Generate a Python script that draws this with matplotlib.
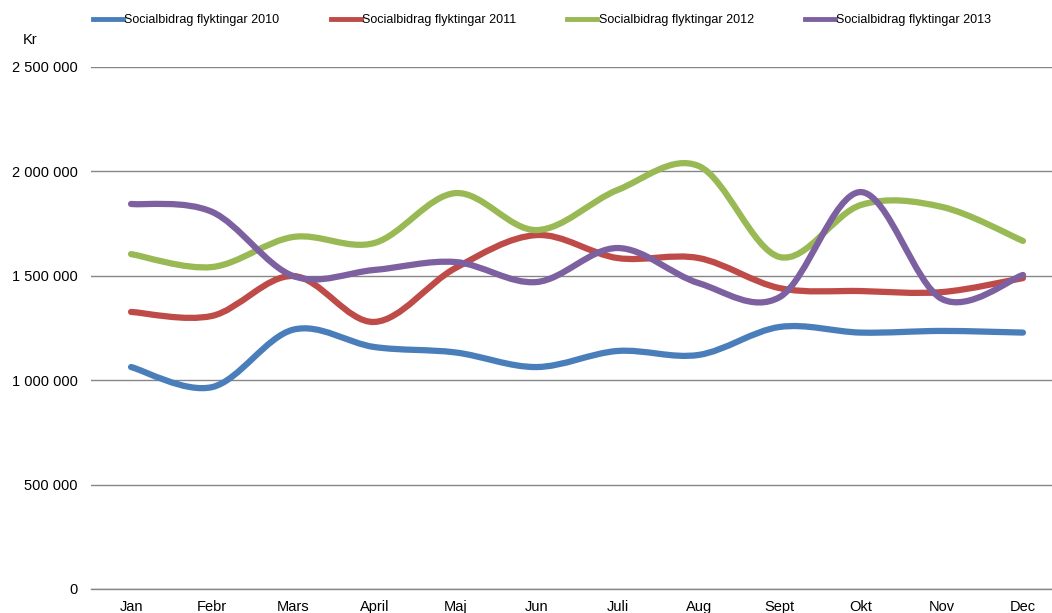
"""
plot.py

Socialbidrag flyktingar per month 2010-2013, drawn as smoothed lines
(Excel style Bezier smoothing through the monthly values).
"""

import matplotlib
matplotlib.use("Agg")
import matplotlib.pyplot as plt
from matplotlib.path import Path
from matplotlib.patches import PathPatch
from matplotlib.lines import Line2D
from matplotlib.ticker import FuncFormatter

# Data
months = ["Jan", "Febr", "Mars", "April", "Maj", "Jun",
          "Juli", "Aug", "Sept", "Okt", "Nov", "Dec"]

bidrag_2010 = [1063000, 967000, 1242000, 1159000, 1133000, 1063000,
               1140000, 1121000, 1255000, 1228000, 1236000, 1228000]
bidrag_2011 = [1327000, 1308000, 1499000, 1279000, 1537000, 1695000,
               1585000, 1585000, 1441000, 1427000, 1422000, 1489000]
bidrag_2012 = [1604000, 1542000, 1686000, 1657000, 1896000, 1719000,
               1911000, 2026000, 1590000, 1839000, 1830000, 1667000]
bidrag_2013 = [1844000, 1806000, 1499000, 1528000, 1566000, 1470000,
               1633000, 1465000, 1398000, 1901000, 1389000, 1504000]

series_labels = ["Socialbidrag flyktingar 2010", "Socialbidrag flyktingar 2011",
                 "Socialbidrag flyktingar 2012", "Socialbidrag flyktingar 2013"]
colors = ["#4a7ebb", "#be4b48", "#98b954", "#7d60a0"]

plt.rcParams["font.family"] = ["Liberation Sans", "DejaVu Sans"]


def smooth_path(xs, ys):
    """Cubic Bezier path through the points, like Excel's smoothed line."""
    n = len(xs)
    verts = [(xs[0], ys[0])]
    codes = [Path.MOVETO]
    for i in range(n - 1):
        x0, y0 = xs[max(i - 1, 0)], ys[max(i - 1, 0)]
        x1, y1 = xs[i], ys[i]
        x2, y2 = xs[i + 1], ys[i + 1]
        x3, y3 = xs[min(i + 2, n - 1)], ys[min(i + 2, n - 1)]
        c1 = (x1 + (x2 - x0) / 6, y1 + (y2 - y0) / 6)
        c2 = (x2 - (x3 - x1) / 6, y2 - (y3 - y1) / 6)
        verts += [c1, c2, (x2, y2)]
        codes += [Path.CURVE4] * 3
    return Path(verts, codes)


fig = plt.figure(figsize=(10.52, 6.13), dpi=100)
ax = fig.add_axes([90.5 / 1052, 24 / 613, 973 / 1052, 522 / 613])

x = list(range(len(months)))
handles = []
for vals, label, color in zip([bidrag_2010, bidrag_2011, bidrag_2012, bidrag_2013],
                              series_labels, colors):
    patch = PathPatch(smooth_path(x, vals), facecolor="none", edgecolor=color,
                      lw=4.5, capstyle="round", joinstyle="round", zorder=3)
    ax.add_patch(patch)
    handles.append(Line2D([], [], color=color, lw=3.5, label=label))

ax.set_xlim(-0.5, len(months) - 0.5)
ax.set_ylim(0, 2500000)
ax.set_xticks(x)
ax.set_xticklabels(months, fontsize=10.5)
ax.set_yticks(range(0, 2500001, 500000))
ax.yaxis.set_major_formatter(FuncFormatter(lambda v, p: f"{int(v):,}".replace(",", " ")))
ax.tick_params(axis="y", labelsize=10.5, length=0, pad=9)
ax.tick_params(axis="x", length=0, pad=8)
ax.grid(axis="y", color="#868686", lw=1)
ax.set_axisbelow(True)
for side in ["top", "right", "left"]:
    ax.spines[side].set_visible(False)
ax.spines["bottom"].set_color("#868686")
ax.spines["bottom"].set_linewidth(1)

fig.text(23 / 1052, 1 - 40 / 613, "Kr", fontsize=10.5, va="center")

fig.legend(handles=handles, loc="center left", bbox_to_anchor=(88 / 1052, 1 - 20 / 613),
           ncol=4, frameon=False, fontsize=9, handlelength=2.4, handletextpad=0.1,
           columnspacing=4.1, borderaxespad=0)

fig.savefig("out.png", dpi=100)
